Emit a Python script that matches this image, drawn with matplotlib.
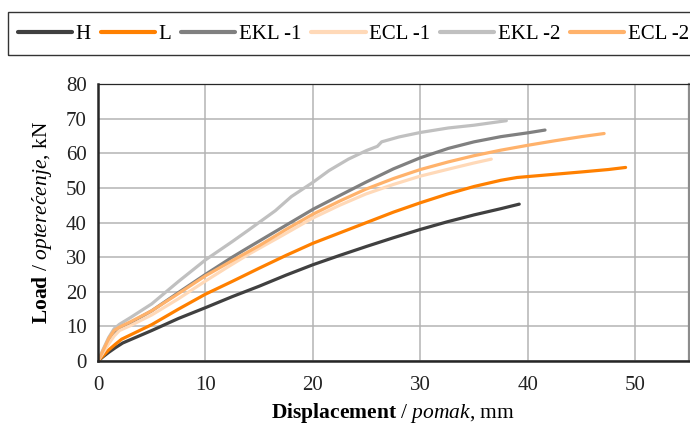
import matplotlib.pyplot as plt
from matplotlib.patches import Rectangle

plt.rcParams['font.family'] = 'Liberation Serif'
plt.rcParams['mathtext.fontset'] = 'custom'
plt.rcParams['mathtext.rm'] = 'Liberation Serif'
plt.rcParams['mathtext.it'] = 'Liberation Serif:italic'
plt.rcParams['mathtext.bf'] = 'Liberation Serif:bold'

# podaci očitani s dijagrama (pomak mm, opterećenje kN)
h_x = [0, 0.5, 1, 1.6, 2.3, 3.5, 5, 7.5, 10, 12.5, 15, 17.5, 20, 22.5, 25,
       27.5, 30, 32.5, 35, 37.5, 39.2]
h_y = [0, 1.3, 2.5, 3.8, 5.2, 6.8, 8.8, 12.3, 15.4, 18.6, 21.6, 24.8, 27.8,
       30.5, 33.1, 35.6, 38, 40.2, 42.2, 44, 45.3]

l_x = [0, 0.5, 1, 1.6, 2.2, 3, 5, 7.5, 10, 12.5, 15, 17.5, 20, 22.5, 25,
       27.5, 30, 32.5, 35, 37.5, 39, 42, 45, 47.5, 49.1]
l_y = [0, 1.6, 3.2, 4.8, 6.3, 7.5, 10.5, 15, 19.3, 23, 26.8, 30.5, 34, 37,
       40, 43, 45.7, 48.2, 50.4, 52.2, 53, 53.8, 54.6, 55.3, 55.9]

ekl1_x = [0, 0.5, 1, 1.5, 2, 3, 5, 7.5, 10, 12.5, 14, 17, 20, 22.5, 24.9,
          27.5, 30, 32.6, 35, 37.5, 40, 41.6]
ekl1_y = [0, 2.8, 5.5, 8, 9.6, 11, 14.5, 19.8, 25, 30, 32.8, 38.3, 43.8,
          47.8, 51.6, 55.5, 58.7, 61.4, 63.3, 64.8, 65.9, 66.7]

ecl1_x = [0, 0.5, 1, 1.5, 2, 3, 5, 7.5, 10, 12, 14, 17, 20, 22.5, 24.9,
          27.5, 30, 32.6, 35, 36.6]
ecl1_y = [0, 2.5, 5, 7.2, 8.8, 10.2, 13.3, 18, 23.1, 27, 30.8, 36, 41.3,
          45, 48.2, 51, 53.4, 55.4, 57.2, 58.3]

ekl2_x = [0, 0.5, 1, 1.5, 2, 3, 5, 7.5, 10, 12.5, 14, 16.5, 18, 20, 21.5,
          23.3, 25, 26, 26.4, 28, 30, 32.6, 35, 38]
ekl2_y = [0, 3.5, 6.8, 9.3, 10.6, 12.5, 16.5, 23, 29.2, 34.5, 37.8, 43.4,
          47.5, 51.6, 55, 58.3, 60.8, 62, 63.3, 64.7, 66, 67.3, 68.1, 69.4]

ecl2_x = [0, 0.5, 1, 1.5, 2, 3, 5, 7.5, 10, 12.5, 15, 17.5, 20, 22.5, 24.9,
          27.5, 30, 32.6, 35, 37.5, 40, 42.5, 45, 47.1]
ecl2_y = [0, 3.2, 6.5, 8.8, 9.8, 11.3, 14.5, 19.5, 24.6, 29, 33.3, 38, 42.4,
          46.2, 49.6, 52.7, 55.3, 57.5, 59.3, 60.9, 62.3, 63.6, 64.8, 65.7]

series = [
    ('H', h_x, h_y, '#404040'),
    ('L', l_x, l_y, '#ff8000'),
    ('EKL -1', ekl1_x, ekl1_y, '#808080'),
    ('ECL -1', ecl1_x, ecl1_y, '#ffd9b8'),
    ('EKL -2', ekl2_x, ekl2_y, '#c0c0c0'),
    ('ECL -2', ecl2_x, ecl2_y, '#ffb26b'),
]

fig = plt.figure(figsize=(6.9, 4.26), dpi=100)
ax = fig.add_axes([98 / 690, 1 - 361 / 426, 591 / 690, 277 / 426])

for name, xs, ys, col in series:
    ax.plot(xs, ys, color=col, lw=2.3, label=name,
            solid_capstyle='round', solid_joinstyle='round')

ax.set_xlim(0, 55)
ax.set_ylim(0, 80)
ax.set_xticks(range(0, 51, 10))
ax.set_yticks(range(0, 81, 10))
ax.grid(True, color='#b4b4b4', lw=1.1)
ax.set_axisbelow(True)
ax.spines['top'].set_color('#262626')
ax.spines['top'].set_linewidth(0.9)
ax.spines['right'].set_color('#8c8c8c')
ax.spines['right'].set_linewidth(1.6)
for s in ['left', 'bottom']:
    ax.spines[s].set_color('#262626')
    ax.spines[s].set_linewidth(1.8)
ax.tick_params(axis='x', length=0, labelsize=15, pad=11, colors='#222222')
ax.tick_params(axis='y', length=0, labelsize=15, pad=8, colors='#222222')

ax.set_xlabel(r'$\mathbf{Displacement}$ / $\mathit{pomak}$, mm', fontsize=15.5, labelpad=4)
ax.set_ylabel(r'$\mathbf{Load}$ / $\mathit{optere\'{c}enje}$, kN', fontsize=15.5, labelpad=8)

# okvir legende ide preko desnog ruba slike
fig.patches.append(Rectangle((8 / 690, 1 - 55 / 426), 700 / 690, 43 / 426,
                             transform=fig.transFigure, fill=False,
                             edgecolor='#333333', lw=1.0))
leg = fig.legend(loc='center left', bbox_to_anchor=(18 / 690, 1 - 34 / 426), ncol=6,
                 fontsize=15, frameon=False, handlelength=2.6,
                 handletextpad=0.15, columnspacing=0.5, borderpad=0,
                 borderaxespad=0)
for line in leg.get_lines():
    line.set_linewidth(3)

plt.savefig('out.png', dpi=100)
